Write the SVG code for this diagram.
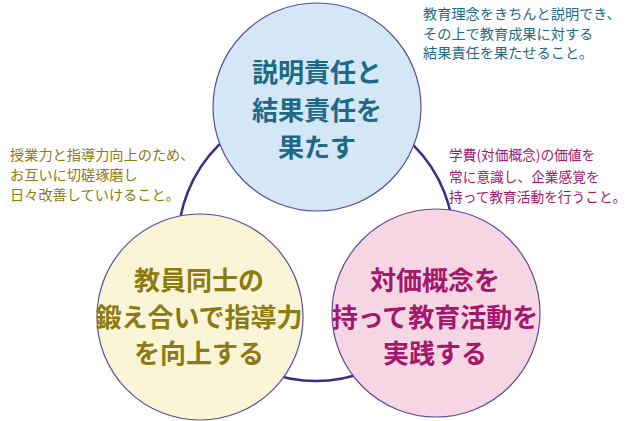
<svg xmlns="http://www.w3.org/2000/svg" width="630" height="421" viewBox="0 0 630 421">
<style>
.node{stroke:#5b4c9c;stroke-width:1.2}
.nt{font-family:"Noto Sans CJK JP","Noto Sans CJK SC",sans-serif;font-weight:bold;font-size:26px;text-anchor:middle}
.an{font-family:"Noto Sans CJK JP","Noto Sans CJK SC",sans-serif;font-size:14.2px}
.ar{font-size:13.7px}
.blue{fill:#1e6a86}
.olive{fill:#8c7b12}
.mag{fill:#a3186c}
</style>
<rect width="630" height="421" fill="#ffffff"/>
<g id="connectors">
<circle cx="316" cy="243" r="138" fill="none" stroke="#3a2c88" stroke-width="2.5"/>
</g>
<g id="node-top">
<circle class="node" cx="317" cy="107" r="104" fill="#d4e7f6"/>
<text class="nt blue" x="317" y="82">説明責任と</text>
<text class="nt blue" x="317" y="120">結果責任を</text>
<text class="nt blue" x="317" y="157">果たす</text>
</g>
<g id="node-left">
<circle class="node" cx="200" cy="317" r="103" fill="#fbf5d8"/>
<text class="nt olive" x="199" y="290">教員同士の</text>
<text class="nt olive" x="199" y="327">鍛え合いで指導力</text>
<text class="nt olive" x="199" y="363">を向上する</text>
</g>
<g id="node-right">
<circle class="node" cx="436" cy="313" r="104" fill="#f6d6e2"/>
<text class="nt mag" x="435" y="290">対価概念を</text>
<text class="nt mag" x="435" y="327">持って教育活動を</text>
<text class="nt mag" x="435" y="363">実践する</text>
</g>
<g id="note-top">
<text class="an blue" x="423" y="19">教育理念をきちんと説明でき、</text>
<text class="an blue" x="423" y="39">その上で教育成果に対する</text>
<text class="an blue" x="423" y="58">結果責任を果たせること。</text>
</g>
<g id="note-left">
<text class="an olive" x="10" y="160">授業力と指導力向上のため、</text>
<text class="an olive" x="10" y="180">お互いに切磋琢磨し</text>
<text class="an olive" x="10" y="200">日々改善していけること。</text>
</g>
<g id="note-right">
<text class="an ar mag" x="449" y="160">学費(対価概念)の価値を</text>
<text class="an ar mag" x="449" y="182">常に意識し、企業感覚を</text>
<text class="an ar mag" x="449" y="202">持って教育活動を行うこと。</text>
</g>
</svg>
